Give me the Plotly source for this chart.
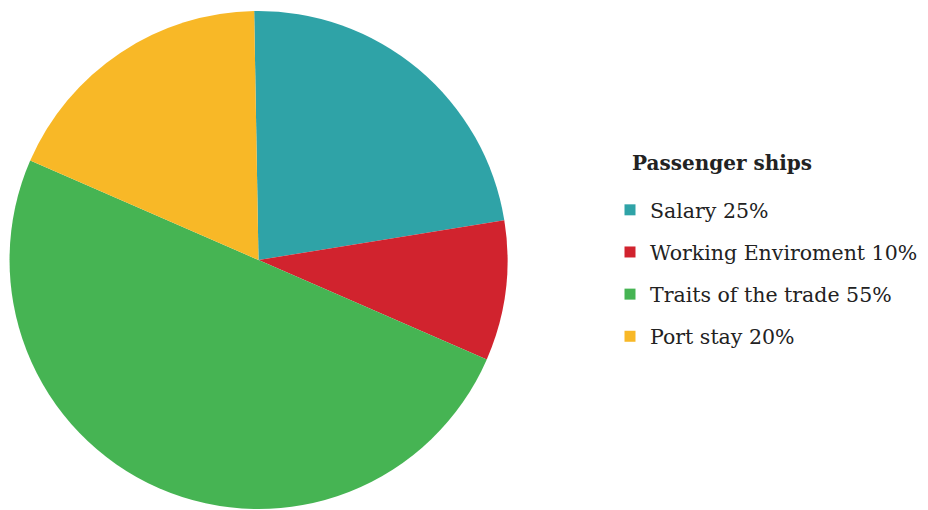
import plotly.graph_objects as go

labels = ["Salary", "Working Enviroment", "Traits of the trade", "Port stay"]
values = [25, 10, 55, 20]
colors = ["#2FA3A7", "#D1232E", "#46B453", "#F8B827"]
legend_title = "Passenger ships"

W, H = 928, 510
fig = go.Figure()
fig.add_trace(go.Pie(
    labels=labels, values=values, sort=False, direction="clockwise", rotation=-1,
    marker=dict(colors=colors, line=dict(width=0)), textinfo="none",
    showlegend=False,
    domain=dict(x=[1.5 / W, 499.5 / W], y=[1 - 501 / H, 1 - 3 / H]),
))
for i, (lab, v, c) in enumerate(zip(labels, values, colors)):
    fig.add_trace(go.Scatter(
        x=[None], y=[None], mode="markers", name=f"{lab} {v}%",
        marker=dict(symbol="square", size=11, color=c),
        legendgroup=f"g{i}", showlegend=True,
    ))

fig.update_layout(
    width=W, height=H, margin=dict(l=0, r=0, t=0, b=0),
    paper_bgcolor="white", plot_bgcolor="white",
    xaxis=dict(visible=False), yaxis=dict(visible=False),
    legend=dict(x=602 / W, xanchor="left", y=1 - 182 / H, yanchor="top",
                font=dict(family="DejaVu Serif", size=20.5, color="#222222"),
                tracegroupgap=12.5, bgcolor="rgba(0,0,0,0)"),
    annotations=[dict(text=f"<b>{legend_title}</b>", x=622 / W, y=1 - 155 / H,
                      xref="paper", yref="paper", xanchor="left", yanchor="middle",
                      showarrow=False,
                      font=dict(family="DejaVu Serif", size=20, color="#222222"))],
)
fig.write_html("out.html")
